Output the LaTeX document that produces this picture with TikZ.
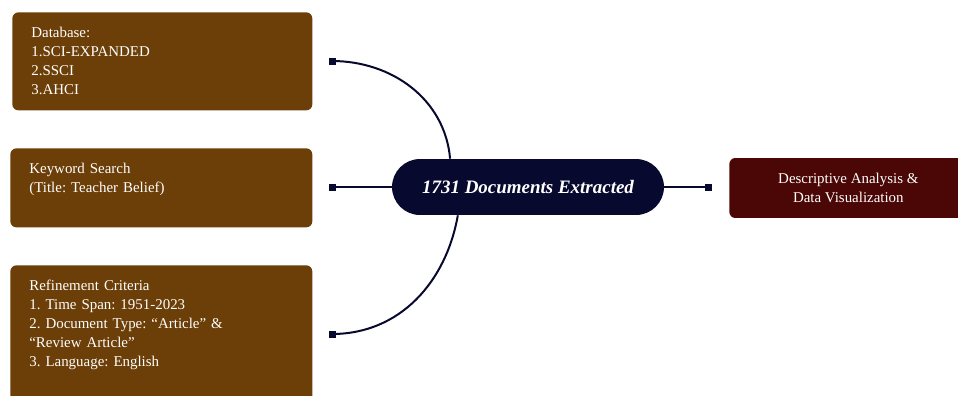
\documentclass[tikz,border=0pt]{standalone}
\usepackage{fontspec}
\setmainfont{Liberation Serif}
\usepackage{tikz}
\tikzset{% change default arrow tips
    >=latex
}
\frenchspacing
\definecolor{srcbrown}{RGB}{108,62,8}
\definecolor{hubnavy}{RGB}{8,9,46}
\definecolor{outred}{RGB}{74,7,5}
\tikzset{
    srcbox/.style={fill=srcbrown, rounded corners=0.12cm, anchor=north west, inner sep=0},
    srctext/.style={text=white, anchor=north west, inner sep=0, text width=5.6cm, align=left,
        font=\fontsize{8.5}{10.8}\selectfont},
    pin/.style={rectangle, fill=hubnavy, minimum size=0.14cm, inner sep=0},
    hub/.style={fill=hubnavy, rounded corners=0.56cm, minimum width=5.44cm, minimum height=1.12cm,
        text=white, font=\fontsize{10.8}{12}\selectfont\bfseries\itshape},
    outbox/.style={fill=outred, rounded corners=0.12cm, minimum width=4.76cm, minimum height=1.2cm,
        text=white, align=center, font=\fontsize{8.5}{10.8}\selectfont},
    link/.style={draw=hubnavy, line width=0.04cm}
}

\begin{document}
\begin{tikzpicture}[x=0.02cm,y=-0.02cm]
    		\clip (0,0) rectangle (958,396);
    		\newcommand{\pinx}{332}
    	
    		% source boxes
    		\node[srcbox, minimum width=6cm, minimum height=1.96cm] (db) at (12,12) {};
    		\node[srctext] (dbtext) at ([shift={(19,15)}]db.north west) {Database:\\1.SCI-EXPANDED\\2.SSCI\\3.AHCI};
    		\node[srcbox, minimum width=6.04cm, minimum height=1.58cm] (kw) at (10,148) {};
    		\node[srctext] (kwtext) at ([shift={(19,15)}]kw.north west) {Keyword Search\\(Title: Teacher Belief)};
    		\node[srcbox, minimum width=6.04cm, minimum height=3cm] (rc) at (10,265) {};
    		\node[srctext] (rctext) at ([shift={(19,15)}]rc.north west) {Refinement Criteria\\1. Time Span: 1951-2023\\2. Document Type: “Article” \&\\“Review Article”\\3. Language: English};
    	
    		% hub and output
    		\node[hub] (hub) at (528,187) {1731 Documents Extracted};
    		\node[outbox, anchor=west] (out) at (729,188) {Descriptive Analysis \&\\Data Visualization};
    	
    		% connectors
    		\draw[link] (\pinx,61) coordinate (p1) to[out=0,in=95] (hub.160);
    		\draw[link] (\pinx,187) coordinate (p2) -- (hub.west);
    		\draw[link] (\pinx,334) coordinate (p3) to[out=0,in=-100] (hub.202);
    		\draw[link] (hub.east) -- (708,187) coordinate (p4);
    	
    		% pins
		    \node[pin] (pin1) at (p1) {};
		    \node[pin] (pin2) at (p2) {};
		    \node[pin] (pin3) at (p3) {};
		    \node[pin] (pin4) at (p4) {};
		      
		\end{tikzpicture}
\end{document}
